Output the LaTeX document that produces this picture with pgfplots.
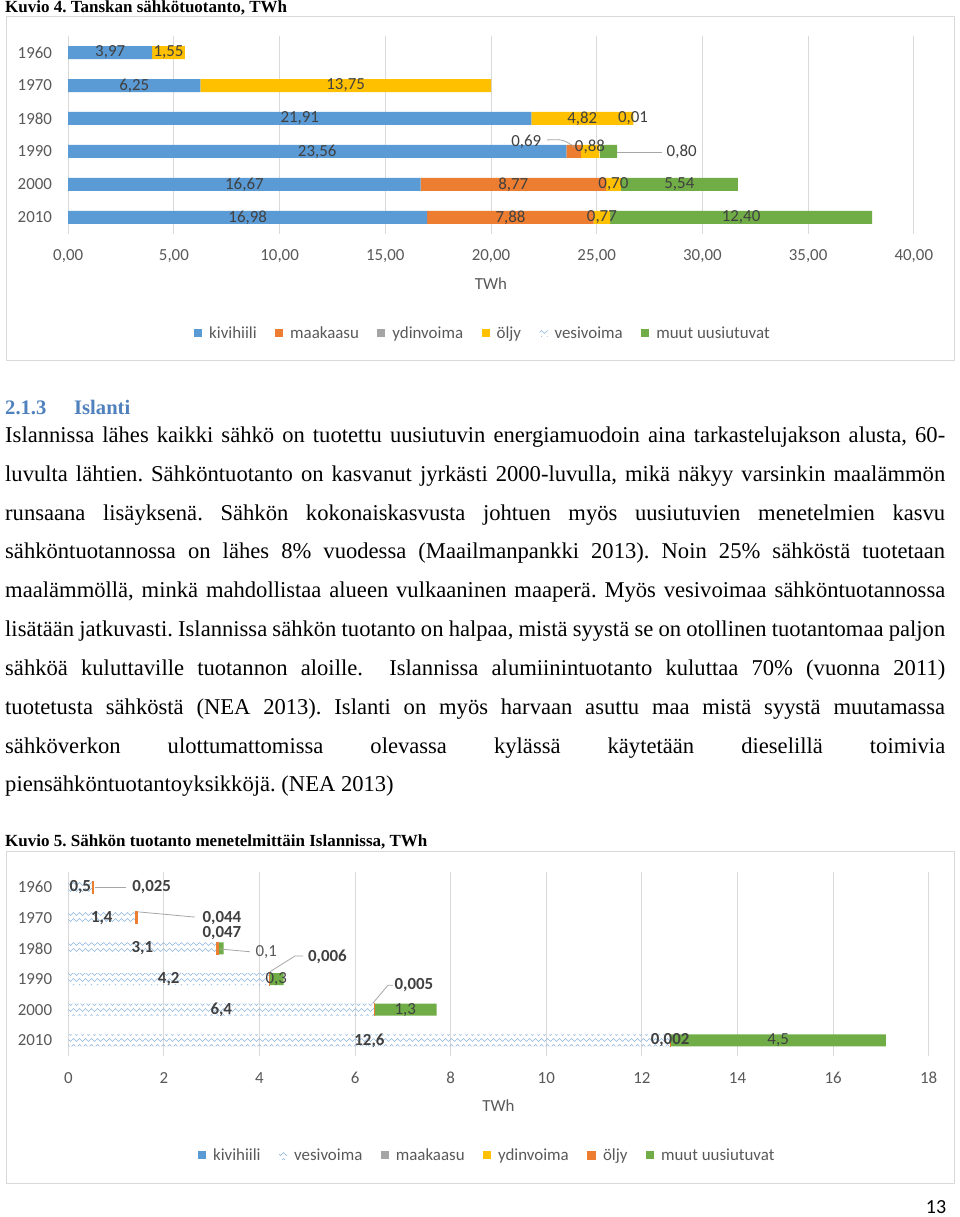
\documentclass[border=0pt]{standalone}
\usepackage{fontspec}
\setmainfont{Liberation Serif}
\newfontfamily\carlito{Carlito}
\usepackage{pgfplots}
\pgfplotsset{compat=1.18}
\usepackage{pgfplotstable}
\usetikzlibrary{patterns.meta}
\frenchspacing

\definecolor{cblue}{HTML}{5B9BD5}
\definecolor{corange}{HTML}{ED7D31}
\definecolor{cgray}{HTML}{A5A5A5}
\definecolor{cyellow}{HTML}{FFC000}
\definecolor{cgreen}{HTML}{70AD47}
\definecolor{cwave}{HTML}{8FB6E0}
\definecolor{gridc}{HTML}{D9D9D9}
\definecolor{tickc}{HTML}{595959}
\definecolor{labc}{HTML}{404040}
\definecolor{leadc}{HTML}{A6A6A6}
\definecolor{headc}{HTML}{4F81BD}

\tikzdeclarepattern{
  name=wavy,
  type=uncolored,
  bottom left={(-0.5pt,-0.5pt)},
  top right={(6.5pt,6.5pt)},
  tile size={(6pt,6pt)},
  code={
    \draw[line width=0.6pt] (0pt,3pt) -- (1.5pt,4.5pt) -- (3pt,3pt) -- (4.5pt,1.5pt) -- (6pt,3pt);
  }
}

% Tanska (Kuvio 4)
\pgfplotstableread{
y kivi maa yd olj ves muut
0 3.97  0    0 1.55  0    0
1 6.25  0    0 13.75 0    0
2 21.91 0    0 4.82  0.01 0
3 23.56 0.69 0 0.88  0.03 0.80
4 16.67 8.77 0 0.70  0    5.54
5 16.98 7.88 0 0.77  0    12.40
}\tanska

% Islanti (Kuvio 5)
\pgfplotstableread{
y kivi ves maa yd olj muut
0 0 0.5  0 0 0.025 0
1 0 1.4  0 0 0.044 0
2 0 3.1  0 0 0.047 0.1
3 0 4.2  0 0 0.006 0.3
4 0 6.4  0 0 0.005 1.3
5 0 12.6 0 0 0.002 4.5
}\islanti

\newcommand\chfont{\carlito\fontsize{16.9}{20}\selectfont}

\tikzset{
  lab/.style={font=\chfont, text=labc, inner sep=0pt, anchor=center},
  labb/.style={font=\carlito\bfseries\fontsize{16.9}{20}\selectfont, text=labc, inner sep=0pt, anchor=center},
  lead/.style={leadc, line width=0.8pt},
}

\pgfplotsset{
  pagechart/.style={
    scale only axis, anchor=north west, xbar stacked, clip=false,
    axis line style={draw=none}, major tick length=0pt,
    xmajorgrids, grid style={gridc, line width=0.9pt},
    ymin=-0.5, ymax=5.5, y dir=reverse,
    ytick={0,...,5}, yticklabels={1960,1970,1980,1990,2000,2010},
    tick label style={font=\chfont, text=tickc},
    xticklabel style={anchor=center, yshift=-22pt, inner sep=0pt},
    yticklabel style={anchor=east, xshift=-16pt, inner sep=0pt},
    xlabel={TWh},
    every axis x label/.style={at={(axis description cs:0.5,0)}, anchor=center, yshift=-50pt, font=\chfont, text=tickc},
    legend columns=-1,
    legend style={draw=none, fill=none, font=\chfont, text=tickc, anchor=center,
      /tikz/every odd column/.append style={column sep=5pt},
      /tikz/every even column/.append style={column sep=16.5pt}},
  },
  overlay/.style={scale only axis, anchor=north west, hide axis, clip=false,
    ymin=-0.5, ymax=5.5, y dir=reverse},
  li/.style={draw=none, legend image code/.code={\path[##1] (0pt,-4pt) rectangle (8pt,4pt);}},
}

\begin{document}
\begin{tikzpicture}
\fill[white] (0pt,0pt) rectangle (960pt,-1217pt);
\path[use as bounding box] (0pt,0pt) rectangle (960pt,-1217pt);

% ---------- Title 1 ----------
\node[anchor=base west, inner sep=0pt, font=\bfseries\fontsize{17}{20}\selectfont] at (5pt,-12.5pt) {Kuvio 4. Tanskan sähkötuotanto, TWh};
\draw[gridc, line width=0.9pt] (6pt,-16pt) rectangle (954pt,-360pt);

\begin{axis}[pagechart,
  at={(68.2pt,-36pt)}, width=845.6pt, height=198pt, bar width=13pt,
  xmin=0, xmax=40, xtick={0,5,...,40},
  xticklabels={{0,00},{5,00},{10,00},{15,00},{20,00},{25,00},{30,00},{35,00},{40,00}},
  legend style={at={(0.4905,-0.5)}},
]
\addplot[li, fill=cblue] table[x=kivi, y=y] {\tanska};
\addplot[li, fill=corange] table[x=maa, y=y] {\tanska};
\addplot[li, fill=cgray] table[x=yd, y=y] {\tanska};
\addplot[li, fill=cyellow] table[x=olj, y=y] {\tanska};
\addplot[li, pattern=wavy, pattern color=cwave] table[x=ves, y=y] {\tanska};
\addplot[li, fill=cgreen] table[x=muut, y=y] {\tanska};
\legend{kivihiili, maakaasu, ydinvoima, öljy, vesivoima, muut uusiutuvat}
\end{axis}

\begin{axis}[overlay, at={(68.2pt,-36pt)}, width=845.6pt, height=198pt, xmin=0, xmax=40]
\node[lab] at (axis cs:1.985,0) {3,97};
\node[lab] at (axis cs:4.745,0) {1,55};
\node[lab] at (axis cs:3.125,1) {6,25};
\node[lab] at (axis cs:13.125,1) {13,75};
\node[lab] at (axis cs:10.955,2) {21,91};
\node[lab] at (axis cs:24.32,2) {4,82};
\node[lab] at (axis cs:26.72,2) {0,01};
\node[lab] at (axis cs:11.78,3) {23,56};
\node[lab] at (axis cs:21.67,2.70) {0,69};
\node[lab] at (axis cs:24.68,2.85) {0,88};
\node[lab] at (axis cs:29.02,3.02) {0,80};
\draw[lead] (axis cs:22.64,2.65) .. controls (axis cs:23.4,2.63) .. (axis cs:23.97,2.87);
\draw[lead] (axis cs:25.95,3.02) -- (axis cs:28.07,3.02);
\node[lab] at (axis cs:8.335,4) {16,67};
\node[lab] at (axis cs:21.055,4) {8,77};
\node[lab] at (axis cs:25.79,4) {0,70};
\node[lab] at (axis cs:28.91,4) {5,54};
\node[lab] at (axis cs:8.49,5) {16,98};
\node[lab] at (axis cs:20.92,5) {7,88};
\node[lab] at (axis cs:25.245,5) {0,77};
\node[lab] at (axis cs:31.83,5) {12,40};
\end{axis}

% ---------- Heading and body text ----------
\node[anchor=base west, inner sep=0pt, text=headc, font=\bfseries\fontsize{20.6}{24}\selectfont] at (5pt,-414pt) {2.1.3};
\node[anchor=base west, inner sep=0pt, text=headc, font=\bfseries\fontsize{20.6}{24}\selectfont] at (74pt,-414pt) {Islanti};

\begin{scope}[every node/.style={anchor=base west, inner sep=0pt, font=\fontsize{22.6}{26}\selectfont}]
\node at (5pt,-442pt) {\makebox[940pt][s]{Islannissa lähes kaikki sähkö on tuotettu uusiutuvin energiamuodoin aina tarkastelujakson alusta, 60-}};
\node at (5pt,-481pt) {\makebox[940pt][s]{luvulta lähtien. Sähköntuotanto on kasvanut jyrkästi 2000-luvulla, mikä näkyy varsinkin maalämmön}};
\node at (5pt,-520pt) {\makebox[940pt][s]{runsaana lisäyksenä. Sähkön kokonaiskasvusta johtuen myös uusiutuvien menetelmien kasvu}};
\node at (5pt,-558pt) {\makebox[940pt][s]{sähköntuotannossa on lähes 8\% vuodessa (Maailmanpankki 2013). Noin 25\% sähköstä tuotetaan}};
\node at (5pt,-597pt) {\makebox[940pt][s]{maalämmöllä, minkä mahdollistaa alueen vulkaaninen maaperä. Myös vesivoimaa sähköntuotannossa}};
\node at (5pt,-636pt) {\makebox[940pt][s]{lisätään jatkuvasti. Islannissa sähkön tuotanto on halpaa, mistä syystä se on otollinen tuotantomaa paljon}};
\node at (5pt,-675pt) {\makebox[940pt][s]{sähköä kuluttaville tuotannon aloille.\ \ Islannissa alumiinintuotanto kuluttaa 70\% (vuonna 2011)}};
\node at (5pt,-714pt) {\makebox[940pt][s]{tuotetusta sähköstä (NEA 2013). Islanti on myös harvaan asuttu maa mistä syystä muutamassa}};
\node at (5pt,-753pt) {\makebox[940pt][s]{sähköverkon ulottumattomissa olevassa kylässä käytetään dieselillä toimivia}};
\node at (5pt,-791.5pt) {piensähköntuotantoyksikköjä. (NEA 2013)};
\end{scope}

% ---------- Title 2 ----------
\node[anchor=base west, inner sep=0pt, font=\bfseries\fontsize{17}{20}\selectfont] at (5pt,-846pt) {Kuvio 5. Sähkön tuotanto menetelmittäin Islannissa, TWh};
\draw[gridc, line width=0.9pt] (6pt,-851pt) rectangle (954pt,-1183pt);

\begin{axis}[pagechart,
  at={(68.3pt,-871.7pt)}, width=860.4pt, height=184pt, bar width=12pt,
  xmin=0, xmax=18, xtick={0,2,...,18},
  xticklabels={0,2,4,6,8,10,12,14,16,18},
  legend style={at={(0.487,-0.54)}},
]
\addplot[li, fill=cblue] table[x=kivi, y=y] {\islanti};
\addplot[li, pattern=wavy, pattern color=cwave] table[x=ves, y=y] {\islanti};
\addplot[li, fill=cgray] table[x=maa, y=y] {\islanti};
\addplot[li, fill=cyellow] table[x=yd, y=y] {\islanti};
\addplot[li, fill=corange, draw=corange, line width=0.8pt] table[x=olj, y=y] {\islanti};
\addplot[li, fill=cgreen] table[x=muut, y=y] {\islanti};
\legend{kivihiili, vesivoima, maakaasu, ydinvoima, öljy, muut uusiutuvat}
\end{axis}

\begin{axis}[overlay, at={(68.3pt,-871.7pt)}, width=860.4pt, height=184pt, xmin=0, xmax=18]
\node[labb] at (axis cs:0.25,0) {0,5};
\node[labb] at (axis cs:0.7,1) {1,4};
\node[labb] at (axis cs:1.55,2) {3,1};
\node[labb] at (axis cs:2.1,3) {4,2};
\node[labb] at (axis cs:3.2,4) {6,4};
\node[labb] at (axis cs:6.3,5) {12,6};

\node[labb] at (axis cs:1.745,0) {0,025};
\node[labb] at (axis cs:3.215,1.02) {0,044};
\node[labb] at (axis cs:3.215,1.50) {0,047};
\node[labb] at (axis cs:5.42,2.29) {0,006};
\node[labb] at (axis cs:7.23,3.19) {0,005};
\node[labb] at (axis cs:12.59,5) {0,002};

\node[lab, text=tickc] at (axis cs:4.14,2.12) {0,1};
\node[lab] at (axis cs:4.35,3) {0,3};
\node[lab] at (axis cs:7.05,4) {1,3};
\node[lab] at (axis cs:14.85,5) {4,5};

\draw[lead] (axis cs:0.56,0) -- (axis cs:1.2,0);
\draw[lead] (axis cs:1.465,0.81) -- (axis cs:2.65,0.98);
\draw[lead] (axis cs:3.17,2.02) -- (axis cs:3.8,2.11);
\draw[lead] (axis cs:4.22,2.76) -- (axis cs:4.74,2.25) -- (axis cs:4.91,2.25);
\draw[lead] (axis cs:6.37,3.79) -- (axis cs:6.69,3.2) -- (axis cs:6.79,3.2);
\end{axis}

\node[anchor=center, inner sep=0pt, font=\carlito\fontsize{20}{24}\selectfont] at (936pt,-1207pt) {13};
\end{tikzpicture}
\end{document}
